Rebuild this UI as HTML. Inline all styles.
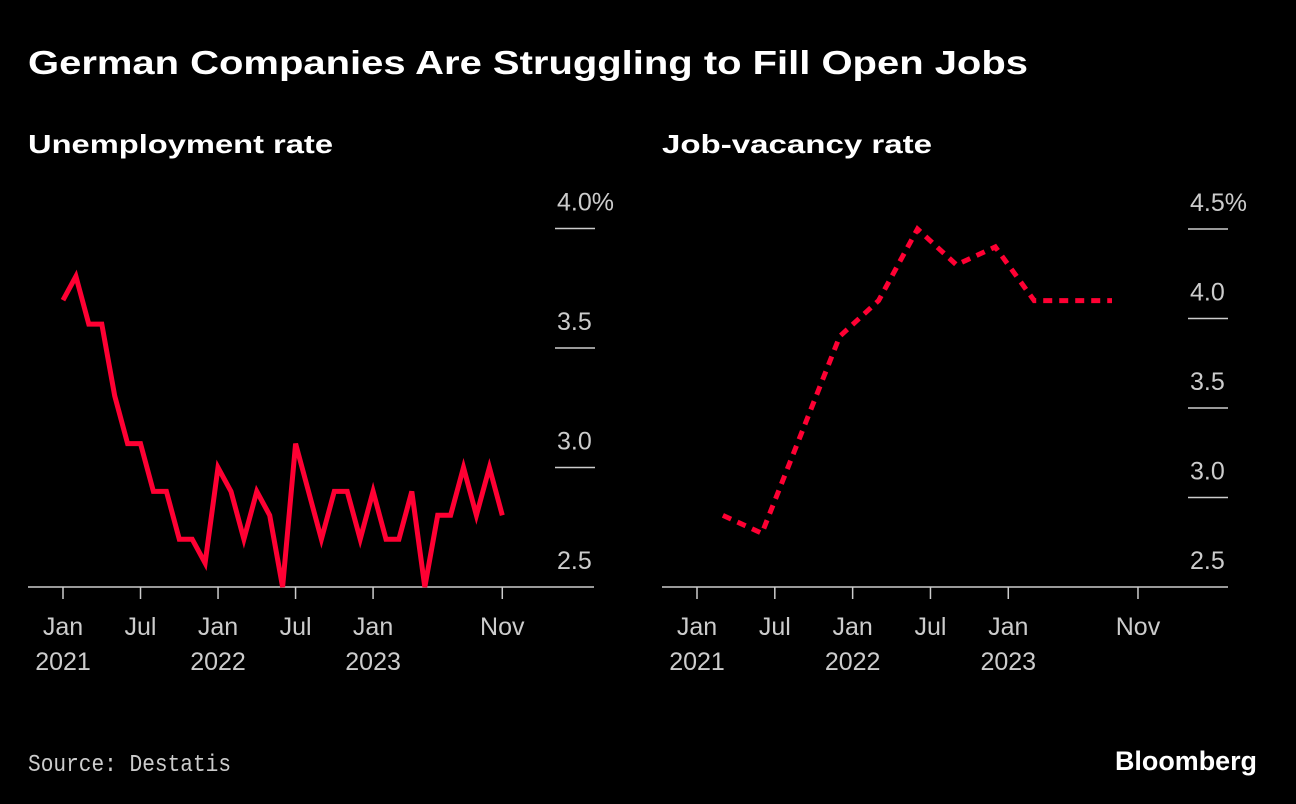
<!DOCTYPE html>
<html><head><meta charset="utf-8"><style>
html,body{margin:0;padding:0;background:#000;}
svg{display:block;}
text{font-family:"Liberation Sans",sans-serif;}
</style></head><body>
<svg id="chart" width="1296" height="804" viewBox="0 0 1296 804">
<rect width="1296" height="804" fill="#000"/>
<text x="28" y="74" fill="#fff" font-size="33" font-weight="bold" textLength="1000" lengthAdjust="spacingAndGlyphs">German Companies Are Struggling to Fill Open Jobs</text>
<text x="28" y="153" fill="#fff" font-size="26" font-weight="bold" textLength="305" lengthAdjust="spacingAndGlyphs">Unemployment rate</text>
<text x="662" y="153" fill="#fff" font-size="26" font-weight="bold" textLength="270" lengthAdjust="spacingAndGlyphs">Job-vacancy rate</text>
<text x="28" y="771" fill="#ccc" font-size="24" style="font-family:'Liberation Mono',monospace" textLength="203" lengthAdjust="spacingAndGlyphs">Source: Destatis</text>
<text x="1115" y="770" fill="#fff" font-size="27" font-weight="bold" textLength="142" lengthAdjust="spacingAndGlyphs">Bloomberg</text>
<g id="left"></g>
<g id="right"></g>
</svg>
<script>
// Unemployment rate, monthly Jan 2021 - Nov 2023
const unempValues = [3.7,3.8,3.6,3.6,3.3,3.1,3.1,2.9,2.9,2.7,2.7,2.6,3.0,2.9,2.7,2.9,2.8,2.5,3.1,2.9,2.7,2.9,2.9,2.7,2.9,2.7,2.7,2.9,2.5,2.8,2.8,3.0,2.8,3.0,2.8];
const unempTicks = [2.5,3.0,3.5,4.0];
const unempTickLabels = ["2.5","3.0","3.5","4.0%"];
// Job-vacancy rate, quarterly (month index from Jan 2021)
const vacMonths = [2,5,8,11,14,17,20,23,26,29,32];
const vacValues = [2.9,2.8,3.35,3.9,4.1,4.5,4.3,4.4,4.1,4.1,4.1];
const vacTicks = [2.5,3.0,3.5,4.0,4.5];
const vacTickLabels = ["2.5","3.0","3.5","4.0","4.5%"];
const xTickMonths = [0,6,12,18,24,34];
const xTickLine1 = ["Jan","Jul","Jan","Jul","Jan","Nov"];
const xTickLine2 = ["2021","","2022","","2023",""];

const NS="http://www.w3.org/2000/svg";
function mk(parent,tag,attrs){const e=document.createElementNS(NS,tag);for(const k in attrs)e.setAttribute(k,attrs[k]);parent.appendChild(e);return e;}

function panel(g,cfg){
  const xs=m=>cfg.x0+m*cfg.mw;
  const ys=v=>587-(v-cfg.vmin)*cfg.vpx;
  const ax=mk(g,'line',{x1:cfg.axL,x2:cfg.axR,y1:587,y2:587,stroke:'#ccc','stroke-width':1.5});
  
  
  cfg.ticks.forEach((t,i)=>{
    const y=ys(t);
    if(i>0){
      const gl=mk(g,'line',{x1:cfg.gx,x2:cfg.gx+40,y1:y,y2:y,stroke:'#ccc','stroke-width':1.5});
      
      
    }
    const tx=mk(g,'text',{x:cfg.gx+2,y:y-18,fill:'#ccc','font-size':25});
    tx.textContent=cfg.labels[i];
    
    
  });
  xTickMonths.forEach((m,i)=>{
    const x=xs(m);
    const tk=mk(g,'line',{x1:x,x2:x,y1:587,y2:599,stroke:'#ccc','stroke-width':1.5});
    
    
    const t1=mk(g,'text',{x:x,y:635,fill:'#ccc','font-size':25,'text-anchor':'middle'});
    t1.textContent=xTickLine1[i];
    
    
    if(xTickLine2[i]){
      const t2=mk(g,'text',{x:x,y:670,fill:'#ccc','font-size':25,'text-anchor':'middle'});
      t2.textContent=xTickLine2[i];
      
      
    }
  });
  const pts=cfg.values.map((v,i)=>xs(cfg.months[i]).toFixed(1)+','+ys(v).toFixed(1)).join(' ');
  const attrs={points:pts,fill:'none',stroke:'#ff0033','stroke-width':5,'stroke-linejoin':'miter'};
  if(cfg.dash){attrs['stroke-dasharray']='9 7';}
  const pl=mk(g,'polyline',attrs);
  
  
}
panel(document.getElementById('left'),{x0:63,mw:12.92,vmin:2.5,vpx:239,axL:28,axR:594,gx:555,
  ticks:unempTicks,labels:unempTickLabels,values:unempValues,months:unempValues.map((_,i)=>i),name:'unemployment-line',dash:false});
panel(document.getElementById('right'),{x0:697,mw:12.97,vmin:2.5,vpx:179,axL:662,axR:1228,gx:1188,
  ticks:vacTicks,labels:vacTickLabels,values:vacValues,months:vacMonths,name:'vacancy-line',dash:true});
</script>
</body></html>
